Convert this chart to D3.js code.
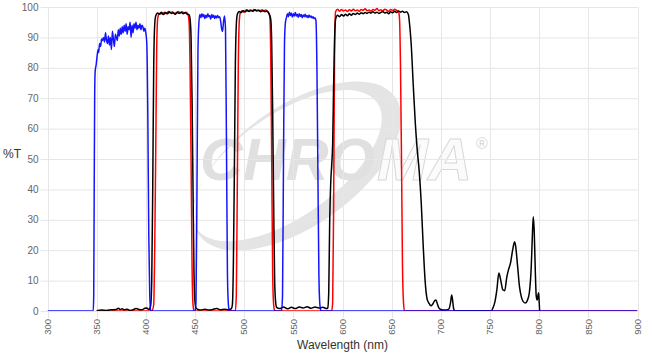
<!DOCTYPE html>
<html>
<head>
<meta charset="utf-8">
<script src="https://cdn.jsdelivr.net/npm/d3@7"></script>
<style>
  body { margin: 0; background: #fff; }
  text { font-family: Arial, "Liberation Sans", sans-serif; }
</style>
</head>
<body>
<div id="chart"></div>
<script>
var xTicks = [300, 350, 400, 450, 500, 550, 600, 650, 700, 750, 800, 850, 900];
var yTicks = [0, 10, 20, 30, 40, 50, 60, 70, 80, 90, 100];

// [wavelength nm, %T]
var blueData = [[300,0],[346.5,0],[347,5],[347.5,40],[348,72],[348.5,79],[349.5,81],[350.5,84],[351.5,86],[352,85],
  [353,88],[354,87],[355,89.5],[356,89],[357,90],[358,88.5],[359,91.5],[360,89],[361,88],[362,90.5],[363,87.5],
  [364,90],[365,86],[366,92],[367,89.5],[368,87],[369,91],[370,90],[371,89],[372,92.5],[373,90.5],[374,93],
  [375,91],[376,93.5],[377,91.5],[378,94],[379,92],[380,94.5],[381,91],[382,93.5],[383,92.5],[384,95],[385,90],
  [386,94],[387,91.5],[388,94.5],[389,93],[390,95],[391,92.5],[392,94],[393,93],[394,94.5],[395,92.5],[396,94],
  [397,93.5],[398,92],[399,93],[400,91.5],[401,88],[402,65],[403,25],[404,5],[405,0],
  [450,0],[451,3],[452,40],[453,85],[454,95],[455,97.5],[456,96.5],[457,97.8],[458,96.8],[459,97.5],[460,96.2],
  [461,97.3],[462,96.5],[463,97.8],[464,96.8],[465,97.2],[466,96],[467,97.5],[468,96.6],[469,97.3],[470,96.2],
  [471,97],[472,96.4],[473,97.2],[474,96.5],[475,96.8],[476,95.5],[477,93],[478,92],[479,95],[480,97],[481,93],
  [482,55],[483,12],[484,2],[485,0],
  [538,0],[539,5],[540,50],[541,88],[542,95],[543,96.5],[544,97.8],[545,96.8],[546,98.3],[547,97.2],[548,98],
  [549,96.7],[550,97.8],[551,97],[552,98.2],[553,97],[554,97.6],[555,96.6],[556,97.8],[557,96.9],[558,97.5],
  [559,96.5],[560,97.4],[561,96.8],[562,97.6],[563,96.7],[564,97.2],[565,96.5],[566,97.4],[567,96.6],[568,97],
  [569,96.4],[570,96.8],[571,96.2],[572,96.5],[573,95.5],[574,80],[575,45],[576,12],[577,2],[578,0],[900,0]];

var redData = [[350,0],[406,0],[408,2],[409,20],[410,50],[411,85],[412,96],[413,97.5],[415,98],[417,97.6],
  [419,98.3],[421,97.8],[423,98.5],[425,98],[427,98.4],[429,97.7],[431,98.2],[433,98.5],[435,98],[437,98.4],
  [439,98],[441,98.3],[443,97.5],[444,95],[445,80],[446,50],[447,15],[448,2],[449,0],
  [491,0],[492,5],[493,40],[494,80],[495,95],[496,98],[498,98.8],[500,98.3],[502,99],[504,98.6],[506,99],
  [508,98.7],[510,99.2],[512,98.8],[514,99],[516,98.6],[518,99.1],[520,98.8],[522,99],[524,98.5],[526,97],
  [527,85],[528,50],[529,12],[530,2],[531,0],
  [589,0],[590,3],[591,35],[592,88],[593,98.5],[595,99.3],[597,98.6],[599,99.2],[601,98.7],[603,99],[605,98.5],
  [607,99.1],[609,98.7],[611,99.3],[613,98.8],[615,99],[617,98.6],[619,99.2],[621,98.9],[623,99.4],[625,98.8],
  [627,99],[629,98.6],[631,99.2],[633,98.9],[635,99.5],[637,98.8],[639,99.1],[641,98.7],[643,99.3],[645,99],
  [647,98.6],[649,99.2],[651,98.8],[653,99.3],[655,98.9],[657,98.5],[658,96],[659,80],[660,50],[661,15],
  [662,3],[663,0],[900,0]];

var blackData = [[350,0.1],[355,0.3],[360,0.2],[365,0.4],[370,0.5],[372,0.9],[374,0.5],[376,0.7],[378,0.4],
  [381,0.6],[384,0.2],[387,0.4],[390,0.8],[393,0.5],[396,0.4],[399,0.9],[401,1],[403,0.5],[404,0.8],[405,2],
  [406,10],[407,40],[408,80],[409,94],[410,97],[412,98],[414,97.6],[416,98.3],[418,97.5],[420,98.2],[422,97.8],
  [424,98.4],[426,97.9],[428,98.1],[430,97.6],[432,98.2],[434,97.9],[436,98.3],[438,97.8],[440,98.2],[442,97.6],
  [444,97.5],[445,96],[446,90],[447,70],[448,40],[449,12],[450,3],[451,1],[453,0.5],[456,0.3],[460,0.6],
  [464,0.3],[468,0.5],[472,0.8],[476,0.4],[480,0.6],[484,0.4],[487,0.8],[488,2],[489,15],[490,45],[491,80],
  [492,94],[493,97.5],[495,98.5],[497,98.2],[499,98.8],[501,98.4],[503,99],[505,98.5],[507,98.9],[509,98.6],
  [511,99.1],[513,98.7],[515,98.9],[517,98.4],[519,98.8],[521,98.5],[523,98.6],[525,98],[527,96],[528,88],
  [529,65],[530,35],[531,10],[532,3],[533,1.2],[536,0.8],[540,1.3],[544,0.7],[548,1.2],[552,0.8],[556,1.3],
  [560,1],[564,1.4],[568,0.9],[572,1.3],[576,1],[580,1.2],[584,0.8],[585,1],[586,6],[587,30],[588,42],[589,48],
  [590,55],[591,75],[592,90],[593,96],[595,97.3],[597,96.8],[599,97.5],[601,97],[603,97.6],[605,97.1],[607,97.8],
  [609,97.3],[611,97.9],[613,97.5],[615,98],[617,97.6],[619,98.1],[621,97.8],[623,98.2],[625,97.9],[627,98.3],
  [629,98],[631,98.4],[633,98],[635,98.3],[637,97.9],[639,98.2],[641,98.5],[643,98],[645,98.3],[647,97.8],
  [649,98.4],[651,98.1],[653,98.6],[655,98.2],[657,98.7],[659,98.3],[661,98.6],[663,98.2],[665,98.4],[667,97.5],
  [668,95],[670,87],[672,74],[674,62],[676,53],[678,46],[680,36],[682,22],[684,10],[686,4],[688,2.5],[690,1.7],
  [692,2.4],[694,3.5],[695,3.6],[696,2.8],[698,1],[700,0.5],[704,0.3],[708,0.6],[710,3],[711,5.3],[712,3.5],
  [713,0.8],[714.5,0],[751,0],[753,1],[755,3],[757,7],[759,12.5],[761,10],[763,7],[765,6.7],[767,11],[769,13.8],
  [771,16],[773,20],[775,22.8],[776,21.5],[778,15],[780,8],[782,4.5],[784,3],[786,2.6],[788,3.5],[790,6],
  [792,15],[793,24],[794,31],[795,26],[796,14],[797,5],[798,3.6],[799,5.5],[799.5,6],[800,3],[800.5,0]];

var w = 652, h = 354;
var margin = {top: 7, right: 14.5, bottom: 43, left: 47.5};

var svg = d3.select("#chart").append("svg")
  .attr("width", w)
  .attr("height", h);

var x = d3.scaleLinear().domain([300, 900]).range([margin.left, w - margin.right]);
var y = d3.scaleLinear().domain([0, 100]).range([h - margin.bottom, margin.top]);

// watermark logo, sits behind the grid
var wm = svg.append("g");
var cx = 297, cy = 166;
function ell(ox, oy, rx, ry) {
  return "M" + (ox - rx) + "," + oy + " a" + rx + "," + ry + " 0 1,0 " + (2 * rx) + ",0 a" + rx + "," + ry + " 0 1,0 " + (-2 * rx) + ",0 Z";
}
wm.append("path")
  .attr("transform", "translate(" + cx + "," + cy + ") rotate(-35)")
  .attr("d", ell(0, 0, 120, 60) + " " + ell(-8, -6, 110, 51))
  .attr("fill-rule", "evenodd")
  .attr("fill", "#e4e4e4");
wm.append("text")
  .attr("x", 200).attr("y", 180)
  .attr("font-size", 60).attr("font-weight", "bold").attr("font-style", "italic")
  .attr("textLength", 175).attr("lengthAdjust", "spacingAndGlyphs")
  .attr("fill", "#e0e0e0")
  .text("CHRO");
wm.append("text")
  .attr("x", 377).attr("y", 180)
  .attr("font-size", 60).attr("font-weight", "bold").attr("font-style", "italic")
  .attr("textLength", 95).attr("lengthAdjust", "spacingAndGlyphs")
  .attr("fill", "#fbfbfb").attr("stroke", "#d8d8d8").attr("stroke-width", 1)
  .text("MA");
wm.append("text")
  .attr("x", 476).attr("y", 149)
  .attr("font-size", 16)
  .attr("fill", "#d8d8d8")
  .text("\u00AE");

// grid
svg.append("g").selectAll("line").data(yTicks).enter().append("line")
  .attr("x1", margin.left - 7).attr("x2", w - margin.right)
  .attr("y1", function(d) { return y(d) + 0.5; })
  .attr("y2", function(d) { return y(d) + 0.5; })
  .attr("stroke", "#e6e6e6");
svg.append("g").selectAll("line").data(xTicks).enter().append("line")
  .attr("x1", function(d) { return Math.round(x(d)) + 0.5; })
  .attr("x2", function(d) { return Math.round(x(d)) + 0.5; })
  .attr("y1", margin.top).attr("y2", h - margin.bottom + 7)
  .attr("stroke", "#e6e6e6");

// tick labels
svg.append("g").selectAll("text").data(yTicks).enter().append("text")
  .attr("x", margin.left - 9)
  .attr("y", function(d) { return y(d); })
  .attr("dy", "0.35em")
  .attr("text-anchor", "end")
  .attr("font-size", 10)
  .attr("fill", "#666")
  .text(function(d) { return d; });
svg.append("g").selectAll("text").data(xTicks).enter().append("text")
  .attr("transform", function(d) { return "translate(" + x(d) + "," + (h - margin.bottom + 8) + ") rotate(-90)"; })
  .attr("dy", "0.35em")
  .attr("text-anchor", "end")
  .attr("font-size", 9.5)
  .attr("fill", "#666")
  .text(function(d) { return d; });

svg.append("text")
  .attr("x", 3).attr("y", 158)
  .attr("font-size", 12)
  .attr("fill", "#333")
  .text("%T");
svg.append("text")
  .attr("x", (margin.left + w - margin.right) / 2).attr("y", 349)
  .attr("text-anchor", "middle")
  .attr("font-size", 12)
  .attr("fill", "#333")
  .text("Wavelength (nm)");

// curves
svg.append("clipPath").attr("id", "plot")
  .append("rect")
  .attr("x", margin.left).attr("y", margin.top)
  .attr("width", w - margin.left - margin.right)
  .attr("height", h - margin.top - margin.bottom);

var line = d3.line()
  .x(function(d) { return x(d[0]); })
  .y(function(d) { return y(d[1]); })
  .curve(d3.curveMonotoneX);

var series = [
  {data: redData, color: "#ff0000", op: 1},
  {data: blackData, color: "#000000", op: 1},
  {data: blueData, color: "#0000ff", op: 0.92}
];
var g = svg.append("g").attr("clip-path", "url(#plot)");
g.selectAll("path").data(series).enter().append("path")
  .attr("d", function(d) { return line(d.data); })
  .attr("fill", "none")
  .attr("stroke", function(d) { return d.color; })
  .attr("stroke-opacity", function(d) { return d.op; })
  .attr("stroke-width", 1.5)
  .attr("stroke-linejoin", "round");
</script>
</body>
</html>
